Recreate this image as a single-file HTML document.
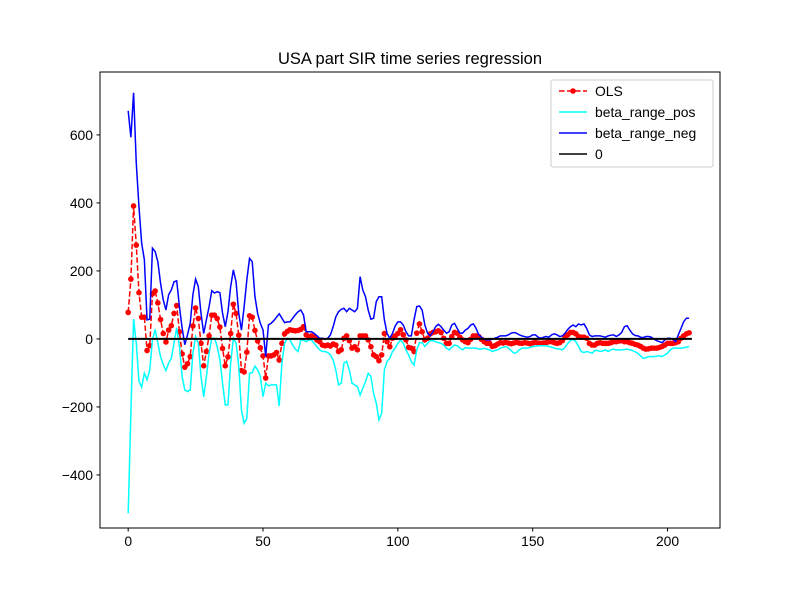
<!DOCTYPE html>
<html><head><meta charset="utf-8"><style>
body{margin:0;background:#fff}
svg text{font-family:"Liberation Sans",sans-serif}
</style></head><body>
<svg id="chart" width="800" height="600" xmlns="http://www.w3.org/2000/svg">
<rect width="800" height="600" fill="#fff"/>
<text x="410" y="64" font-size="16.5" text-anchor="middle">USA part SIR time series regression</text>
<g id="plot"></g>
<g id="axes"></g>
<g>
<rect x="551" y="80" width="162" height="87" rx="2" fill="#fff" fill-opacity="0.8" stroke="#ccc"/>
<g><line x1="559" y1="91" x2="587" y2="91" stroke="#f00" stroke-width="1.5" stroke-dasharray="5.5,2.5"/><circle cx="573" cy="91" r="2.8" fill="#f00"/><text x="595" y="96" font-size="13.9">OLS</text></g>
<g><line x1="559" y1="112" x2="587" y2="112" stroke="#0ff" stroke-width="1.5"/><text x="595" y="117" font-size="13.9">beta_range_pos</text></g>
<g><line x1="559" y1="133" x2="587" y2="133" stroke="#00f" stroke-width="1.5"/><text x="595" y="138" font-size="13.9">beta_range_neg</text></g>
<g><line x1="559" y1="154" x2="587" y2="154" stroke="#000" stroke-width="1.5"/><text x="595" y="159" font-size="13.9">0</text></g>
</g>
</svg>
<script>
const ols=[78,176,391,276,136,64,64,-34,-20,133,141,106,57,16,-9,26,39,75,98,21,-44,-83,-73,-52,38,91,60,-13,-79,-37,9,70,70,60,35,-28,-79,-53,16,102,75,11,-93,-97,-39,68,64,25,-6,-26,-50,-115,-50,
-50,-47,-40,-62,-13,15,22,27,25,24,25,28,36,12,7,9,5,-3,-8,-18,-20,-18,-21,-15,-18,-37,-32,2,9,-5,-27,-23,-32,9,9,9,-3,-23,-47,-52,-64,-47,16,-8,-23,2,9,16,27,12,-3,-25,
-27,-37,17,44,21,-3,2,15,19,21,24,19,2,-13,-13,7,19,17,5,-3,-8,-11,-1,9,9,7,-1,-8,-13,-13,-22,-20,-15,-11,-12,-10,-12,-14,-12,-10,-12,-13,-11,-12,-14,-12,-10,-12,-13,-12,-11,-8,
-8,-11,-13,-11,-5,5,12,19,19,15,7,5,5,2,-13,-18,-18,-13,-11,-13,-13,-13,-11,-8,-8,-6,-5,-8,-8,-11,-13,-16,-18,-22,-27,-30,-29,-27,-27,-27,-25,-22,-18,-13,-13,-13,-11,-8,2,9,15,18];
const betaPos=[-513,-219,58,-12,-125,-142,-101,-120,-91,-3,28,-12,-52,-76,-93,-71,-57,-12,33,-22,-110,-150,-155,-150,-42,7,-12,-110,-170,-110,-42,2,2,-22,-61,-130,-194,-194,-71,2,-12,-81,-209,-248,-233,-101,-99,-80,-91,-110,-170,-130,-138,
-135,-135,-135,-197,-71,-13,2,-3,-18,-30,-37,-3,-3,-8,-3,-3,-13,-23,-32,-37,-37,-40,-47,-62,-91,-135,-130,-71,-66,-91,-130,-135,-140,-165,-145,-126,-101,-111,-160,-189,-238,-218,-91,-66,-57,-37,-27,-13,-3,-13,-32,-47,
-67,-77,-32,-11,-11,-22,-13,-5,-5,-8,-11,-13,-18,-27,-32,-25,-18,-20,-27,-32,-25,-27,-27,-27,-27,-30,-30,-27,-30,-32,-37,-34,-32,-27,-25,-22,-27,-34,-42,-40,-32,-27,-27,-27,-25,-22,-22,-20,-20,-20,-20,-22,
-24,-27,-29,-30,-32,-25,-13,-5,-1,-8,-22,-37,-40,-37,-39,-42,-34,-34,-37,-35,-32,-37,-32,-30,-32,-32,-32,-31,-30,-32,-34,-38,-42,-50,-57,-55,-52,-52,-52,-50,-50,-52,-47,-42,-32,-27,-27,-27,-27,-26,-24,-22];
const betaNeg=[671,593,724,517,389,281,233,56,58,267,257,227,164,115,85,130,144,168,171,95,32,-17,12,46,130,176,154,75,16,56,95,142,135,139,136,75,36,80,154,203,168,75,26,95,174,237,227,125,75,46,26,-52,41,
46,54,64,74,61,48,50,50,61,71,80,85,71,21,21,21,16,9,2,2,-1,2,12,36,65,80,87,90,80,90,85,80,90,183,144,124,85,58,61,110,124,124,56,16,2,16,38,50,50,41,21,9,
9,56,95,97,85,41,17,9,21,36,43,36,26,17,21,41,46,31,17,17,26,31,41,44,31,12,5,-1,-3,-3,-1,2,5,9,9,9,12,17,19,17,12,9,7,5,7,12,12,5,2,5,7,5,
12,15,12,7,9,17,28,36,41,36,44,41,44,31,12,7,9,9,9,7,5,9,11,12,7,12,19,36,39,26,15,10,9,5,4,7,7,5,-1,-5,-8,-11,-3,2,2,-1,-8,12,31,51,61,61];
const xTicks=[0,50,100,150,200];
const yTicks=[-400,-200,0,200,400,600];
const zeroSpan=[0,209];

const L=100,R=720,T=72,B=528;
const XMIN=-10.45,XMAX=219.45,YMIN=-556,YMAX=785;
const sx=v=>L+(v-XMIN)/(XMAX-XMIN)*(R-L);
const sy=v=>B-(v-YMIN)/(YMAX-YMIN)*(B-T);
const NS="http://www.w3.org/2000/svg";
const plot=document.getElementById('plot'),axes=document.getElementById('axes');
function mk(tag,attrs,parent){const e=document.createElementNS(NS,tag);for(const k in attrs)e.setAttribute(k,attrs[k]);parent.appendChild(e);return e;}
function pts(arr){return arr.map((v,i)=>sx(i).toFixed(2)+','+sy(v).toFixed(2)).join(' ');}

let e=mk('polyline',{points:pts(ols),fill:'none',stroke:'#f00','stroke-width':1.5,'stroke-dasharray':'5.5,2.4'},plot);


ols.forEach((v,i)=>{const c=mk('circle',{cx:sx(i),cy:sy(v),r:2.8,fill:'#f00'},plot);

});
e=mk('polyline',{points:pts(betaPos),fill:'none',stroke:'#0ff','stroke-width':1.5},plot);


e=mk('polyline',{points:pts(betaNeg),fill:'none',stroke:'#00f','stroke-width':1.5},plot);


e=mk('line',{x1:sx(zeroSpan[0]),x2:sx(zeroSpan[1]),y1:sy(0),y2:sy(0),stroke:'#000','stroke-width':2},plot);



e=mk('rect',{x:L,y:T,width:R-L,height:B-T,fill:'none',stroke:'#000','stroke-width':1},axes);


xTicks.forEach(t=>{const x=sx(t);
const l=mk('line',{x1:x,x2:x,y1:B,y2:B+3.5,stroke:'#000'},axes);


const tx=mk('text',{x:x,y:B+18,'font-size':13.9,'text-anchor':'middle'},axes);tx.textContent=t;

});
yTicks.forEach(t=>{const y=sy(t);
const l=mk('line',{x1:L-3.5,x2:L,y1:y,y2:y,stroke:'#000'},axes);


const tx=mk('text',{x:L-7,y:y+5,'font-size':13.9,'text-anchor':'end'},axes);tx.textContent=(t<0?'\u2212'+(-t):t);

});
</script>
</body></html>
